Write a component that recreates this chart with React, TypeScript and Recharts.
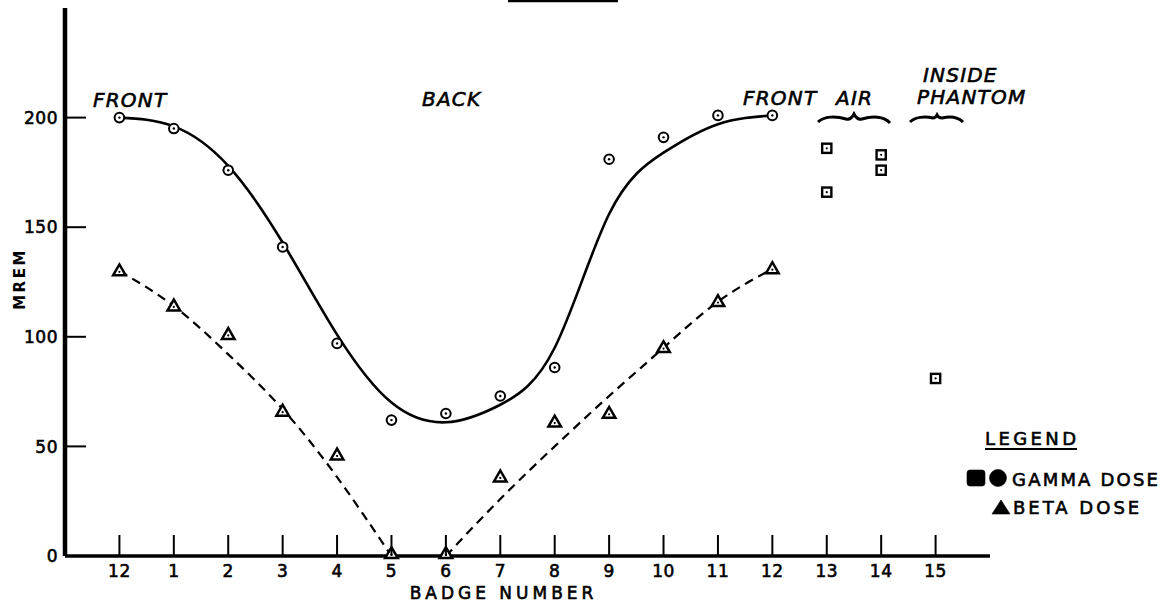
import {
  ComposedChart,
  Line,
  Scatter,
  XAxis,
  YAxis,
  Legend,
  Customized,
} from 'recharts';

const FONT = '"DejaVu Sans", sans-serif';
// lettering is a little heavier than the plain face
const INK = { fill: '#000', stroke: '#000', strokeWidth: 0.6 };

// badge positions 0..15 along the x axis
const badgeLabels = ['12', '1', '2', '3', '4', '5', '6', '7', '8', '9', '10', '11', '12', '13', '14', '15'];

// badges worn on the phantom body (12 front -> back -> 12 front)
const gammaBody = [200, 195, 176, 141, 97, 62, 65, 73, 86, 181, 191, 201, 201];
const betaBody = [130, 114, 101, 66, 46, 1, 1, 36, 61, 65, 95, 116, 131];

// hand-drawn fit curves
const gammaFit = [200, 196, 178, 143, 101, 70, 61, 69, 95, 156, 184, 197, 201];
const betaFitBack = [130, 114, 92, 67, 36, 0]; // badges 12..5
const betaFitFront = [0, 26, 50, 73, 95, 116, 131]; // badges 6..12

// free-air and inside-phantom badges
const airBadges = [13, 13, 14, 14];
const airGamma = [186, 166, 183, 176];
const phantomBadges = [15];
const phantomGamma = [81];

const yTicks = [0, 50, 100, 150, 200];

const rows = badgeLabels.map((_, i) => ({
  idx: i,
  gammaFit: i < gammaFit.length ? gammaFit[i] : null,
  betaBack: i < betaFitBack.length ? betaFitBack[i] : null,
  betaFront: i >= 6 && i - 6 < betaFitFront.length ? betaFitFront[i - 6] : null,
}));

const gammaPts = gammaBody.map((v, i) => ({ idx: i, v }));
const betaPts = betaBody.map((v, i) => ({ idx: i, v }));
const squarePts = [
  ...airBadges.map((b, i) => ({ idx: b, v: airGamma[i] })),
  ...phantomBadges.map((b, i) => ({ idx: b, v: phantomGamma[i] })),
];

const Ring = (p: any) => (
  <g>
    <circle cx={p.cx} cy={p.cy} r={4.8} fill="#fff" stroke="#000" strokeWidth={2} />
    <circle cx={p.cx} cy={p.cy} r={1.2} fill="#000" />
  </g>
);

const Box = (p: any) => (
  <g>
    <rect x={p.cx - 4.6} y={p.cy - 4.6} width={9.2} height={9.2} fill="#fff" stroke="#000" strokeWidth={2.4} />
    <circle cx={p.cx} cy={p.cy} r={1.1} fill="#000" />
  </g>
);

const Tri = (p: any) => (
  <g>
    <polygon
      points={`${p.cx - 6.3},${p.cy + 4.3} ${p.cx + 6.3},${p.cy + 4.3} ${p.cx},${p.cy - 6.6}`}
      fill="#fff"
      stroke="#000"
      strokeWidth={2.5}
      strokeLinejoin="miter"
    />
    <circle cx={p.cx} cy={p.cy + 0.8} r={1.1} fill="#000" />
  </g>
);

const Y_MARGIN = 7;
const YTick = ({ x, y, payload }: any) => (
  <g>
    <line x1={x + Y_MARGIN} x2={x + Y_MARGIN + 21} y1={y} y2={y} stroke="#000" strokeWidth={2} />
    <text x={x} y={y} dy="0.37em" textAnchor="end" fontFamily={FONT} fontSize={17} letterSpacing={0.5} {...INK}>
      {payload.value}
    </text>
  </g>
);

const X_MARGIN = 21;
const XTick = ({ x, y, payload }: any) => (
  <g>
    <line x1={x} x2={x} y1={y - X_MARGIN} y2={y - X_MARGIN - 21} stroke="#000" strokeWidth={2} />
    <text x={x} y={y} textAnchor="middle" fontFamily={FONT} fontSize={17} letterSpacing={0.5} {...INK}>
      {badgeLabels[payload.value]}
    </text>
  </g>
);

const LegendBox = () => (
  <svg width={207} height={100} style={{ display: 'block' }}>
    <g fontFamily={FONT} fontSize={18} {...INK}>
      <text x={25} y={21} letterSpacing={3.4}>LEGEND</text>
      <line x1={25} x2={117} y1={25} y2={25} stroke="#000" strokeWidth={2} />
      <rect x={7} y={46} width={18} height={16} rx={3} fill="#000" />
      <circle cx={38} cy={54} r={8.5} fill="#000" />
      <text x={52} y={62} letterSpacing={2.2}>GAMMA DOSE</text>
      <polygon points="32,90 50,90 41,76" fill="#000" />
      <text x={53} y={90} letterSpacing={3}>BETA DOSE</text>
    </g>
  </svg>
);

const Notes = () => (
  <g fontFamily={FONT} fontSize={20} fontStyle="italic" letterSpacing={1.2} {...INK}>
    <line x1={508} x2={618} y1={1} y2={1} stroke="#000" strokeWidth={2.5} />
    <text x={93} y={107}>FRONT</text>
    <text x={422} y={106}>BACK</text>
    <text x={743} y={105}>FRONT</text>
    <text x={836} y={105}>AIR</text>
    <text x={923} y={82}>INSIDE</text>
    <text x={917} y={104}>PHANTOM</text>
    <path
      d="M818,122 C824,116 836,116 846,119 C850,120 852,118 854,114 C856,118 858,120 862,119 C872,116 884,116 890,123"
      fill="none"
      stroke="#000"
      strokeWidth={3}
    />
    <path
      d="M910,122 C915,117 925,116 933,118 C935,118 936,117 937,115 C938,117 940,118 942,118 C950,116 958,117 963,122"
      fill="none"
      stroke="#000"
      strokeWidth={3}
    />
  </g>
);

export default function App() {
  return (
    <div style={{ position: 'absolute', left: 0, top: 0, background: '#fff' }}>
      <ComposedChart width={1167} height={604} data={rows} margin={{ top: 8, right: 177, bottom: 0, left: 0 }}>
        <XAxis
          dataKey="idx"
          type="number"
          domain={[-1, 16]}
          ticks={badgeLabels.map((_, i) => i)}
          interval={0}
          allowDataOverflow
          height={48}
          tickSize={0}
          tickMargin={X_MARGIN}
          tickLine={false}
          tick={<XTick />}
          axisLine={{ stroke: '#000', strokeWidth: 3.5 }}
          label={{
            content: ({ viewBox }: any) => (
              <text
                x={viewBox.x + viewBox.width / 2 - 24}
                y={viewBox.y + 43}
                textAnchor="middle"
                fontFamily={FONT}
                fontSize={17}
                letterSpacing={4}
                {...INK}
              >
                BADGE NUMBER
              </text>
            ),
          }}
        />
        <YAxis
          type="number"
          domain={[0, 250]}
          ticks={yTicks}
          interval={0}
          width={65}
          tickSize={0}
          tickMargin={Y_MARGIN}
          tickLine={false}
          tick={<YTick />}
          axisLine={{ stroke: '#000', strokeWidth: 4.5 }}
          label={{
            content: ({ viewBox }: any) => {
              const cx = viewBox.x + 20;
              const cy = viewBox.y + viewBox.height / 2 - 3;
              return (
                <text
                  x={cx}
                  y={cy}
                  dy="0.36em"
                  transform={`rotate(-90, ${cx}, ${cy})`}
                  textAnchor="middle"
                  fontFamily={FONT}
                  fontSize={15}
                  fontWeight="bold"
                  letterSpacing={2.5}
                  fill="#000"
                >
                  MREM
                </text>
              );
            },
          }}
        />
        <Line
          dataKey="gammaFit"
          type="natural"
          stroke="#000"
          strokeWidth={2.6}
          dot={false}
          activeDot={false}
          isAnimationActive={false}
        />
        <Line
          dataKey="betaBack"
          type="natural"
          stroke="#000"
          strokeWidth={2.2}
          strokeDasharray="9 6"
          dot={false}
          activeDot={false}
          isAnimationActive={false}
        />
        <Line
          dataKey="betaFront"
          type="natural"
          stroke="#000"
          strokeWidth={2.2}
          strokeDasharray="9 6"
          dot={false}
          activeDot={false}
          isAnimationActive={false}
        />
        <Scatter data={gammaPts} dataKey="v" shape={Ring} isAnimationActive={false} />
        <Scatter data={betaPts} dataKey="v" shape={Tri} isAnimationActive={false} />
        <Scatter data={squarePts} dataKey="v" shape={Box} isAnimationActive={false} />
        <Legend
          layout="horizontal"
          align="center"
          verticalAlign="middle"
          content={<LegendBox />}
          wrapperStyle={{ left: 960, top: 424, width: 207, height: 100 }}
        />
        <Customized component={<Notes />} />
      </ComposedChart>
    </div>
  );
}
